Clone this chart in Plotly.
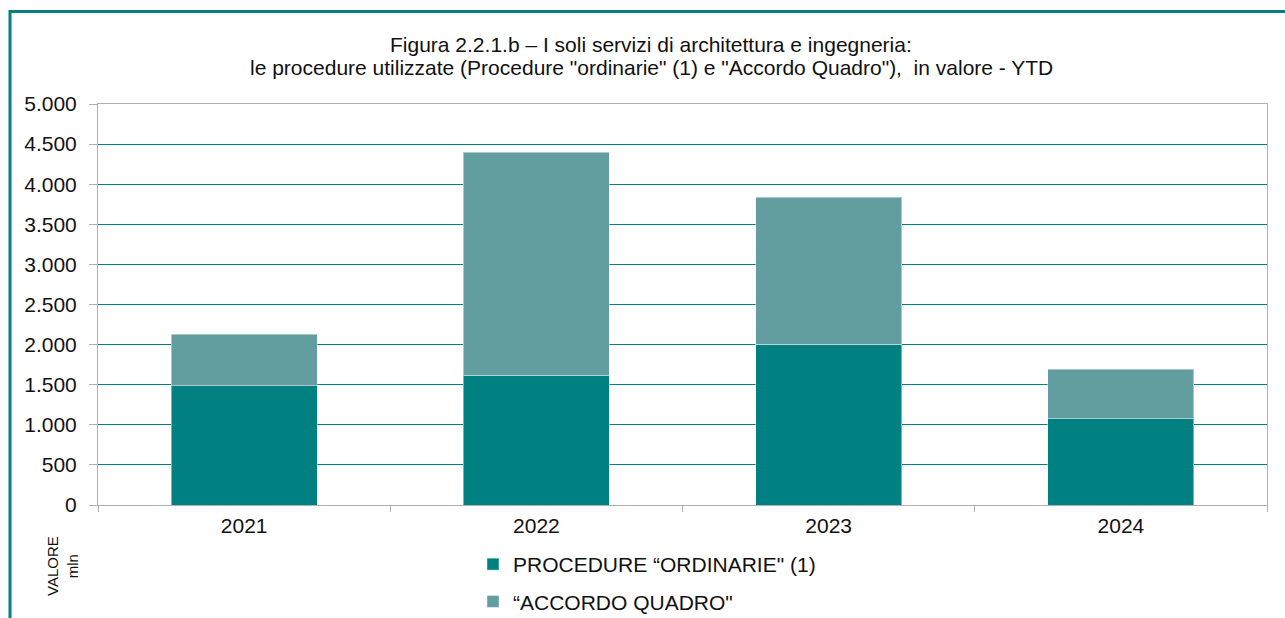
import plotly.graph_objects as go

years = ["2021", "2022", "2023", "2024"]
ordinarie = [1490, 1620, 2005, 1075]
accordo = [640, 2780, 1835, 615]
series_names = ["PROCEDURE \u201cORDINARIE\" (1)", "\u201cACCORDO QUADRO\""]
y_ticks = [0, 500, 1000, 1500, 2000, 2500, 3000, 3500, 4000, 4500, 5000]
title_lines = ["Figura 2.2.1.b \u2013 I soli servizi di architettura e ingegneria:",
               "le procedure utilizzate (Procedure \"ordinarie\" (1) e \"Accordo Quadro\"),  in valore - YTD"]

FONT = "Arial, Liberation Sans, sans-serif"
L, R, T, B = 98, 18, 104, 113
W, H = 1285, 618
pw, ph = W - L - R, H - T - B

def px_x(px):
    return (px - L) / pw

def px_y(py):
    return (H - B - py) / ph

fig = go.Figure()
fig.add_trace(go.Bar(x=years, y=ordinarie, name=series_names[0], marker_color="#008080",
                     marker_line=dict(color="rgba(255,255,255,0.45)", width=1),
                     legendgroup="a"))
fig.add_trace(go.Bar(x=years, y=accordo, name=series_names[1], marker_color="#629E9F",
                     marker_line=dict(color="rgba(255,255,255,0.45)", width=1),
                     legendgroup="b"))

fig.update_layout(
    width=W, height=H,
    barmode="stack", bargap=0.5,
    separators=",.",
    margin=dict(l=L, r=R, t=T, b=B, autoexpand=False),
    paper_bgcolor="white", plot_bgcolor="white",
    font=dict(family=FONT, size=21, color="#111111"),
    xaxis=dict(showline=True, linecolor="#B0B0B0", linewidth=1, mirror=True,
               ticks="outside", ticklen=6, tickcolor="#B0B0B0", tickson="boundaries",
               tickfont=dict(size=21), showgrid=False, ticklabelstandoff=2),
    yaxis=dict(range=[0, 5000], tickvals=y_ticks, tickformat=",d",
               showline=True, linecolor="#B0B0B0", linewidth=1, mirror=True,
               ticks="outside", ticklen=8, tickcolor="#B0B0B0",
               gridcolor="#008080", gridwidth=1, zeroline=False,
               tickfont=dict(size=21), ticklabelstandoff=8),
    legend=dict(xref="container", yref="container",
                x=473 / W, y=1 - 544 / H, xanchor="left", yanchor="top",
                orientation="v", traceorder="grouped", tracegroupgap=7,
                font=dict(size=21), itemwidth=30, bgcolor="rgba(0,0,0,0)"),
    showlegend=True,
)

# frame lines (top and left)
fig.add_shape(type="line", xref="paper", yref="paper",
              x0=px_x(10), x1=px_x(1290), y0=px_y(11.5), y1=px_y(11.5),
              line=dict(color="#008080", width=3))
fig.add_shape(type="line", xref="paper", yref="paper",
              x0=px_x(10), x1=px_x(10), y0=px_y(10), y1=px_y(625),
              line=dict(color="#008080", width=3))

for txt, yc in zip(title_lines, [45, 67]):
    fig.add_annotation(text=txt, xref="paper", yref="paper", x=px_x(651), y=px_y(yc),
                       xanchor="center", yanchor="middle", showarrow=False,
                       font=dict(size=21, family=FONT, color="#111111"))

fig.add_annotation(text="VALORE<br>mln", textangle=-90, xref="paper", yref="paper",
                   x=px_x(62), y=px_y(566), xanchor="center", yanchor="middle",
                   showarrow=False,
                   font=dict(size=15, family=FONT, color="#111111"))

fig.write_html("out.html", config={"displayModeBar": False},
               post_script="document.body.style.margin='0';")
